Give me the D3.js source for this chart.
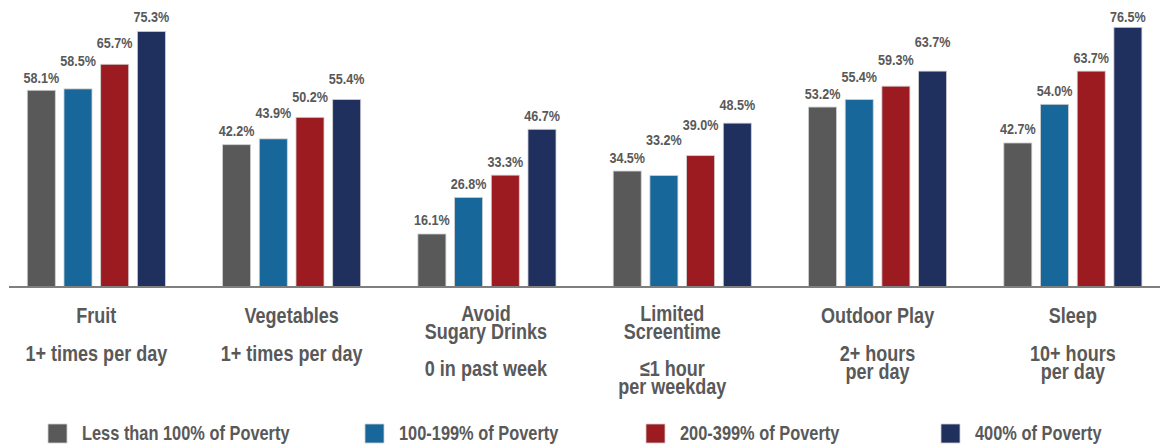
<!DOCTYPE html>
<html>
<head>
<meta charset="utf-8">
<script src="https://cdn.jsdelivr.net/npm/d3@7"></script>
<style>
  html, body { margin: 0; padding: 0; background: #ffffff; }
  svg { display: block; }
</style>
</head>
<body>
<svg id="chart" width="1161" height="447"></svg>
<script>
// ---------------- DATA ----------------
const categories = ["Fruit", "Vegetables", "Avoid Sugary Drinks", "Limited Screentime", "Outdoor Play", "Sleep"];
const categoryTitles = [["Fruit"], ["Vegetables"], ["Avoid", "Sugary Drinks"], ["Limited", "Screentime"], ["Outdoor Play"], ["Sleep"]];
const categorySubtitles = [["1+ times per day"], ["1+ times per day"], ["0 in past week"], ["\u22641 hour", "per weekday"], ["2+ hours", "per day"], ["10+ hours", "per day"]];
const seriesNames = ["Less than 100% of Poverty", "100-199% of Poverty", "200-399% of Poverty", "400% of Poverty"];
const below100  = [58.1, 42.2, 16.1, 34.5, 53.2, 42.7];
const pov100199 = [58.5, 43.9, 26.8, 33.2, 55.4, 54.0];
const pov200399 = [65.7, 50.2, 33.3, 39.0, 59.3, 63.7];
const pov400    = [75.3, 55.4, 46.7, 48.5, 63.7, 76.5];
const seriesValues = [below100, pov100199, pov200399, pov400];

// ---------------- STYLE / LAYOUT ----------------
const colors = ["#595959", "#17679b", "#9b1b21", "#1f2f5e"];
const textColor = "#595959";
const fontFam = "'Liberation Sans', Arial, sans-serif";
const squeeze = 0.82;   // condensed look of the original typeface
// gap (px) between bar top and its value label, as placed in the original
const labelGap = [
  [7.7, 23, 16.5, 9.6],
  [9, 20.5, 15, 15.7],
  [9, 8.3, 8.3, 8.3],
  [8, 30.5, 26, 13.3],
  [8.3, 17.3, 21.3, 24.3],
  [9.3, 8.7, 7.7, 5.7]
];
const catLabelShift = [0, 0, -1, -10, 0, 0];
const legendX = [48, 365, 646, 941];

const svg = d3.select("#chart");
const baseY = 287;

const x0 = d3.scaleBand()
  .domain(categories)
  .range([-2, 1171.2])
  .paddingInner(0.293)
  .paddingOuter(0.15);

const x1 = d3.scaleBand()
  .domain(seriesNames)
  .range([0, x0.bandwidth()])
  .paddingInner(0.237)
  .paddingOuter(0);

const y = d3.scaleLinear().domain([0, 100]).range([289.1, 289.1 - 342.2]);

// bars
const groups = svg.append("g").selectAll("g")
  .data(categories)
  .join("g")
  .attr("transform", c => `translate(${x0(c)},0)`);

groups.each(function(c, ci) {
  const g = d3.select(this);
  const rows = seriesNames.map((s, si) => ({ s, si, v: seriesValues[si][ci] }));
  g.selectAll("rect")
    .data(rows)
    .join("rect")
    .attr("x", d => x1(d.s))
    .attr("y", d => y(d.v))
    .attr("width", x1.bandwidth())
    .attr("height", d => baseY - y(d.v))
    .attr("fill", d => colors[d.si])
    .attr("stroke", "#d0d0d0")
    .attr("stroke-width", 0.8);

  g.selectAll("text.val")
    .data(rows)
    .join("text")
    .attr("class", "val")
    .attr("transform", d => `translate(${x1(d.s) + x1.bandwidth() / 2},${y(d.v) - labelGap[ci][d.si]}) scale(0.9,1)`)
    .attr("text-anchor", "middle")
    .attr("font-family", fontFam)
    .attr("font-weight", "bold")
    .attr("font-size", 14)
    .attr("fill", textColor)
    .text(d => d.v.toFixed(1) + "%");
});

// axis line
svg.append("line")
  .attr("x1", 9).attr("x2", 1160)
  .attr("y1", baseY).attr("y2", baseY)
  .attr("stroke", "#7f7f7f")
  .attr("stroke-width", 2);

// category labels
const lineH = 17.6;
categories.forEach((c, ci) => {
  const cx = x0(c) + x0.bandwidth() / 2 + catLabelShift[ci];
  const titles = categoryTitles[ci];
  const subs = categorySubtitles[ci];
  const firstBase = titles.length === 1 ? 323.5 : 321;
  const t = svg.append("g")
    .attr("transform", `translate(${cx},0) scale(${squeeze},1)`)
    .append("text")
    .attr("text-anchor", "middle")
    .attr("font-family", fontFam)
    .attr("font-weight", "bold")
    .attr("font-size", 22)
    .attr("fill", textColor);
  titles.forEach((line, li) => {
    t.append("tspan").attr("x", 0).attr("y", firstBase + li * lineH).text(line);
  });
  const lastTitle = firstBase + (titles.length - 1) * lineH;
  const subBase = lastTitle + 37.5;
  subs.forEach((line, li) => {
    t.append("tspan").attr("x", 0).attr("y", subBase + li * lineH).text(line);
  });
});

// legend
const leg = svg.append("g");
seriesNames.forEach((s, si) => {
  leg.append("rect")
    .attr("x", legendX[si]).attr("y", 424)
    .attr("width", 19).attr("height", 19)
    .attr("fill", colors[si])
    .attr("stroke", "#d0d0d0").attr("stroke-width", 0.8);
  leg.append("text")
    .attr("transform", `translate(${legendX[si] + 34},440) scale(${squeeze},1)`)
    .attr("font-family", fontFam)
    .attr("font-weight", "bold")
    .attr("font-size", 20)
    .attr("fill", textColor)
    .text(s);
});
</script>
</body>
</html>
